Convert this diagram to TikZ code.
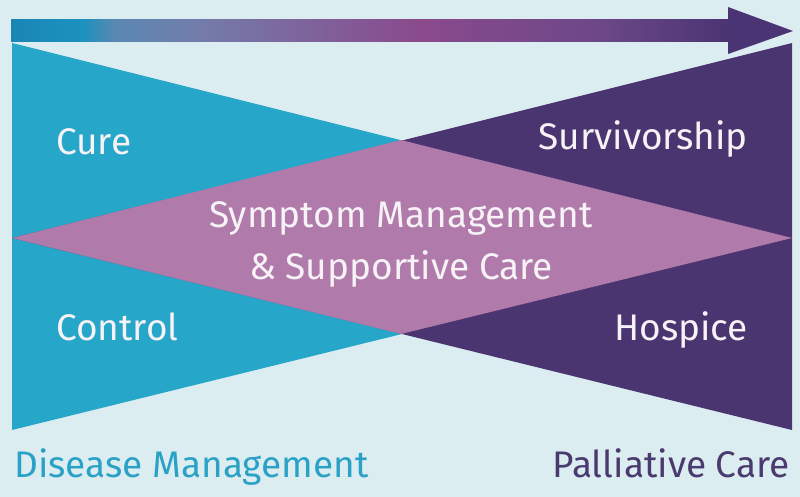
\documentclass[tikz,border=0pt]{standalone}
\usepackage{fontspec}
\setmainfont{Fira Sans}
\definecolor{bg}{HTML}{DCEDF2}
\definecolor{cblue}{HTML}{26A7C9}
\definecolor{cpurple}{HTML}{4A3570}
\definecolor{cpink}{HTML}{B07AAA}
\definecolor{tblue}{HTML}{2AA2C6}
\definecolor{tpurple}{HTML}{4A3A6E}
\definecolor{twhite}{HTML}{F6F2F6}
\definecolor{arrA}{HTML}{1A86B5}
\definecolor{arrB}{HTML}{1C92BE}
\definecolor{arrC}{HTML}{5A88B2}
\definecolor{arrD}{HTML}{737CAA}
\definecolor{arrE}{HTML}{8A4A8C}
\definecolor{arrF}{HTML}{6C4888}
\definecolor{arrG}{HTML}{4B3473}
\pgfdeclarehorizontalshading{arrowshade}{100bp}{color(0bp)=(arrA); color(25bp)=(arrA); color(30bp)=(arrB); color(32.3bp)=(arrC); color(38bp)=(arrD); color(53.5bp)=(arrE); color(66bp)=(arrF); color(75bp)=(arrG); color(100bp)=(arrG)}
\tikzset{
  lbl/.style={inner sep=0pt, text=twhite, font=\fontsize{37}{44}\selectfont},
  bottomlbl/.style={inner sep=0pt, font=\fontsize{37}{44}\selectfont}
}
\begin{document}
\begin{tikzpicture}[x=1pt,y=-1pt]
\fill[bg] (0,0) rectangle (800,497);
\useasboundingbox (0,0) rectangle (800,497);
% corner coordinates
\coordinate (BL1) at (12,43);
\coordinate (BL2) at (12,430);
\coordinate (BL3) at (792,238);
\coordinate (PR1) at (792,43);
\coordinate (PR2) at (792,430);
\coordinate (PR3) at (12,238);
\coordinate (DT) at (401,140);
\coordinate (DB) at (401,334);
% triangles
\fill[cblue] (BL1) -- (BL2) -- (BL3) -- cycle;
\fill[cpurple] (PR1) -- (PR2) -- (PR3) -- cycle;
\fill[cpink] (PR3) -- (DT) -- (BL3) -- (DB) -- cycle;
% arrow
\shade[shading=arrowshade] (11,20) rectangle (729,42);
\fill[arrG] (728,7) -- (793,31) -- (728,54) -- cycle;
% labels
\node[lbl, anchor=base west] (cure) at (56,155) {Cure};
\node[lbl, anchor=base east] (surv) at (748,150) {Survivorship};
\node[lbl, anchor=base] (symp) at (401,227) {Symptom Management};
\node[lbl, anchor=base] (supp) at (401,279) {\& Supportive Care};
\node[lbl, anchor=base west] (ctrl) at (56,340) {Control};
\node[lbl, anchor=base east] (hosp) at (748,340) {Hospice};
\node[bottomlbl, anchor=base west, text=tblue] (dm) at (14,477) {Disease Management};
\node[bottomlbl, anchor=base east, text=tpurple] (pc) at (790,477) {Palliative Care};
\end{tikzpicture}
\end{document}
